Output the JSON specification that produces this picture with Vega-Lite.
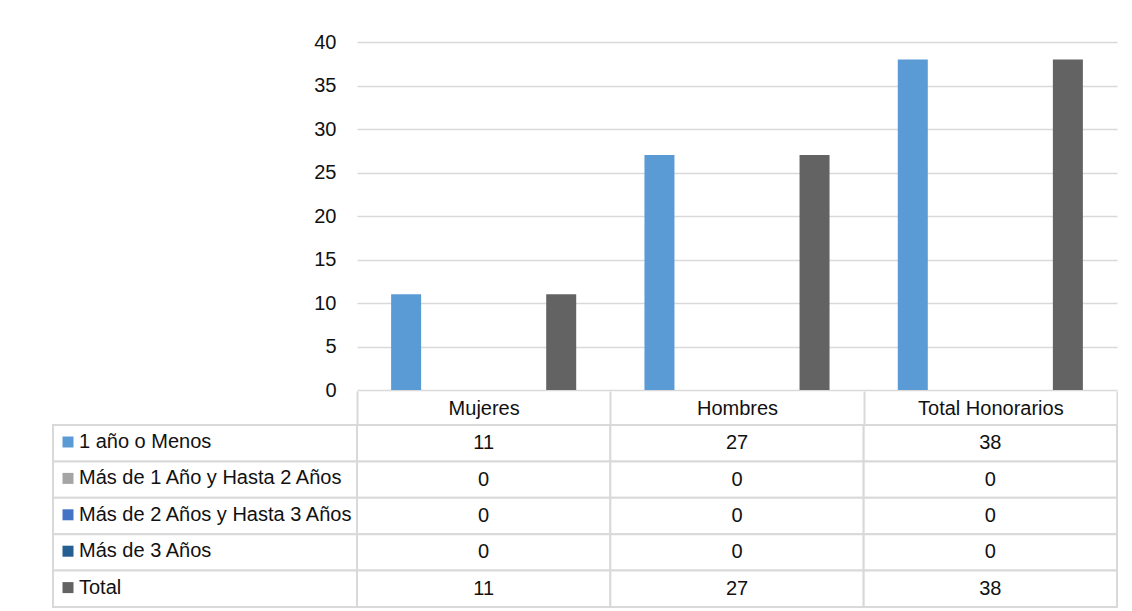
{
  "$schema": "https://vega.github.io/schema/vega-lite/v6.json",
  "padding": {"left": 52, "top": 32, "right": 0, "bottom": 0},
  "background": "white",
  "config": {
    "font": "Liberation Sans, Arial, sans-serif",
    "view": {"stroke": null}
  },
  "datasets": {
    "valores": [
      {"categoria": "Mujeres", "serie": "1 año o Menos", "valor": 11},
      {"categoria": "Mujeres", "serie": "Más de 1 Año y Hasta 2 Años", "valor": 0},
      {"categoria": "Mujeres", "serie": "Más de 2 Años y Hasta 3 Años", "valor": 0},
      {"categoria": "Mujeres", "serie": "Más de 3 Años", "valor": 0},
      {"categoria": "Mujeres", "serie": "Total", "valor": 11},
      {"categoria": "Hombres", "serie": "1 año o Menos", "valor": 27},
      {"categoria": "Hombres", "serie": "Más de 1 Año y Hasta 2 Años", "valor": 0},
      {"categoria": "Hombres", "serie": "Más de 2 Años y Hasta 3 Años", "valor": 0},
      {"categoria": "Hombres", "serie": "Más de 3 Años", "valor": 0},
      {"categoria": "Hombres", "serie": "Total", "valor": 27},
      {"categoria": "Total Honorarios", "serie": "1 año o Menos", "valor": 38},
      {"categoria": "Total Honorarios", "serie": "Más de 1 Año y Hasta 2 Años", "valor": 0},
      {"categoria": "Total Honorarios", "serie": "Más de 2 Años y Hasta 3 Años", "valor": 0},
      {"categoria": "Total Honorarios", "serie": "Más de 3 Años", "valor": 0},
      {"categoria": "Total Honorarios", "serie": "Total", "valor": 38}
    ]
  },
  "data": {"name": "valores"},
  "spacing": -10,
  "vconcat": [
    {
      "bounds": "flush",
      "spacing": 0,
      "hconcat": [
        {
          "width": 304,
          "height": 348,
          "data": {"values": []},
          "mark": {"type": "point"},
          "encoding": {}
        },
        {
          "width": 760,
          "height": 348,
          "mark": {"type": "bar"},
          "encoding": {
            "x": {"field": "categoria", "type": "nominal", "sort": ["Mujeres", "Hombres", "Total Honorarios"], "scale": {"paddingInner": 0, "paddingOuter": 0}, "axis": null},
            "xOffset": {"field": "serie", "type": "nominal", "sort": ["1 año o Menos", "Más de 1 Año y Hasta 2 Años", "Más de 2 Años y Hasta 3 Años", "Más de 3 Años", "Total"], "scale": {"paddingInner": 0.226, "paddingOuter": 0.88}},
            "y": {
              "field": "valor", "type": "quantitative",
              "scale": {"domain": [0, 40]},
              "axis": {"title": null, "values": [0, 5, 10, 15, 20, 25, 30, 35, 40], "grid": true, "gridColor": "#d9d9d9", "gridWidth": 1.5, "domain": false, "ticks": false, "labelFontSize": 20, "labelColor": "#111", "labelPadding": 21}
            },
            "color": {
              "field": "serie", "type": "nominal",
              "scale": {"domain": ["1 año o Menos", "Más de 1 Año y Hasta 2 Años", "Más de 2 Años y Hasta 3 Años", "Más de 3 Años", "Total"], "range": ["#5B9BD5", "#A5A5A5", "#4472C4", "#255E91", "#636363"]},
              "legend": {"orient": "none", "legendX": 5, "legendY": 390, "title": null, "symbolType": "square", "symbolSize": 121, "symbolStrokeWidth": 0, "labelFontSize": 20, "labelColor": "#111", "labelLimit": 400, "rowPadding": 16.4, "labelOffset": 1, "padding": 0}
            }
          }
        }
      ]
    },
    {
      "bounds": "flush",
      "spacing": 0,
      "hconcat": [
        {
          "width": 304,
          "height": 182,
          "transform": [{"filter": "datum.categoria === 'Mujeres'"}],
          "mark": {"type": "rect", "fill": "white", "stroke": "#d9d9d9", "strokeWidth": 2},
          "encoding": {
            "y": {"field": "serie", "type": "nominal", "sort": ["1 año o Menos", "Más de 1 Año y Hasta 2 Años", "Más de 2 Años y Hasta 3 Años", "Más de 3 Años", "Total"], "scale": {"paddingInner": 0, "paddingOuter": 0}, "axis": null}
          }
        },
        {
          "width": 760,
          "height": 182,
          "encoding": {
            "x": {"field": "categoria", "type": "nominal", "sort": ["Mujeres", "Hombres", "Total Honorarios"], "scale": {"paddingInner": 0, "paddingOuter": 0},
              "axis": {"orient": "top", "title": null, "labelAngle": 0, "labelFontSize": 20, "labelColor": "#111", "tickBand": "extent", "tickSize": 34, "tickColor": "#d9d9d9", "tickWidth": 2, "domain": false, "labelPadding": -27}},
            "y": {"field": "serie", "type": "nominal", "sort": ["1 año o Menos", "Más de 1 Año y Hasta 2 Años", "Más de 2 Años y Hasta 3 Años", "Más de 3 Años", "Total"], "scale": {"paddingInner": 0, "paddingOuter": 0}, "axis": null}
          },
          "layer": [
            {"mark": {"type": "rect", "fill": "white", "stroke": "#d9d9d9", "strokeWidth": 2}},
            {"mark": {"type": "text", "fontSize": 20, "color": "#111"}, "encoding": {"text": {"field": "valor", "type": "quantitative"}}}
          ]
        }
      ]
    }
  ]
}
